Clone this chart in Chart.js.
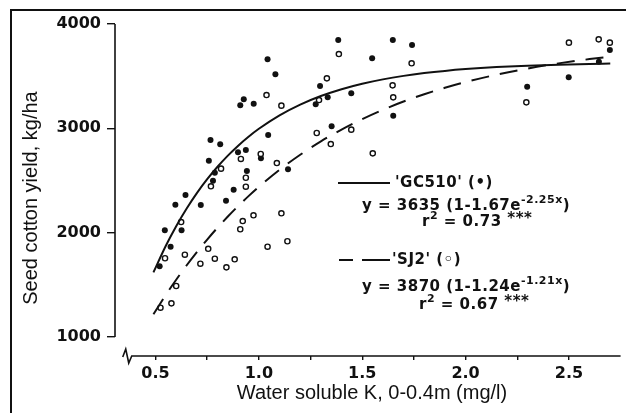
<!DOCTYPE html>
<html>
<head>
<meta charset="utf-8">
<title>Seed cotton yield vs water soluble K</title>
<script src="https://cdn.jsdelivr.net/npm/chart.js@4.4.1/dist/chart.umd.min.js"></script>
<style>
  html, body { margin: 0; padding: 0; background: #fff; }
  #wrap { width: 626px; height: 413px; position: relative; }
</style>
</head>
<body>
<div id="wrap"><canvas id="yieldChart" width="626" height="413"></canvas></div>
<script>
// 'GC510' plots (filled dots): water soluble K (mg/l) and seed cotton yield (kg/ha)
var GC510_K = [0.52, 0.545, 0.573, 0.596, 0.626, 0.645, 0.719, 0.758, 0.766, 0.778,
  0.787, 0.813, 0.841, 0.878, 0.899, 0.91, 0.927, 0.937, 0.942, 0.975,
  1.01, 1.042, 1.045, 1.08, 1.141, 1.275, 1.296, 1.333, 1.352, 1.384,
  1.447, 1.548, 1.648, 1.65, 1.741, 2.298, 2.499, 2.645, 2.698];
var GC510_YIELD = [1677, 2022, 1865, 2268, 2022, 2360, 2265, 2690, 2888, 2498,
  2575, 2846, 2306, 2410, 2770, 3220, 3278, 2792, 2591, 3236,
  2712, 3662, 2936, 3518, 2607, 3230, 3406, 3297, 3019, 3847,
  3335, 3671, 3847, 3121, 3799, 3399, 3489, 3639, 3751];

// 'SJ2' plots (open circles)
var SJ2_K = [0.524, 0.546, 0.577, 0.6, 0.624, 0.642, 0.717, 0.755, 0.787, 0.768,
  0.817, 0.843, 0.883, 0.91, 0.913, 0.922, 0.937, 0.937, 0.974, 1.009,
  1.037, 1.042, 1.087, 1.109, 1.109, 1.138, 1.28, 1.291, 1.329, 1.348,
  1.387, 1.447, 1.551, 1.647, 1.65, 1.739, 2.294, 2.5, 2.644, 2.698];
var SJ2_YIELD = [1280, 1754, 1322, 1488, 2101, 1788, 1702, 1845, 1750, 2444,
  2613, 1667, 1744, 2032, 2706, 2111, 2526, 2440, 2166, 2754,
  3319, 1865, 2667, 3217, 2185, 1917, 2955, 3271, 3479, 2849,
  3712, 2987, 2760, 3412, 3297, 3623, 3249, 3821, 3853, 3821];

// fitted curves y = a (1 - b e^(-c x)), coefficients as printed on the figure
var GC510_FIT = [3635, 1.67, 2.25];
var SJ2_FIT = [3870, 1.24, 1.21];
var FIT_K = [0.49, 0.55, 0.6, 0.65, 0.7, 0.75, 0.8, 0.85, 0.9, 0.95, 1.0, 1.1, 1.2, 1.3,
  1.4, 1.5, 1.6, 1.7, 1.8, 1.9, 2.0, 2.15, 2.3, 2.45, 2.6, 2.7];

var X_TICKS = [0.5, 0.75, 1.0, 1.25, 1.5, 1.75, 2.0, 2.25, 2.5];
var Y_TICKS = [1000, 2000, 3000, 4000];

// key text; second item of each piece: 0 plain, 1 superscript, 2 raised
var GC510_LABEL = "'GC510' (\u2022)";
var GC510_EQ = [['y = 3635 (1-1.67e', 0], ['-2.25x', 1], [')', 0]];
var GC510_R2 = [['r', 0], ['2', 1], [' = 0.73 ', 0], ['***', 2]];
var SJ2_LABEL = "'SJ2' (\u25E6)";
var SJ2_EQ = [['y = 3870 (1-1.24e', 0], ['-1.21x', 1], [')', 0]];
var SJ2_R2 = [['r', 0], ['2', 1], [' = 0.67 ', 0], ['***', 2]];

var TICK_FONT = 'DejaVu Sans';
var TITLE_FONT = '"Liberation Sans", Arial, sans-serif';
var KEY_SIZE = 15;

function fitCurve(coef) {
  return FIT_K.map(function (k) {
    return { x: k, y: coef[0] * (1 - coef[1] * Math.exp(-coef[2] * k)) };
  });
}

function toPoints(xs, ys) {
  return xs.map(function (x, i) { return { x: x, y: ys[i] }; });
}

function keyFont(size) {
  return 'bold ' + size + 'px ' + TICK_FONT;
}

function drawRuns(ctx, x, y, runs) {
  runs.forEach(function (piece) {
    var t = piece[0], kind = piece[1];
    var size = kind === 1 ? Math.round(KEY_SIZE * 0.72) : KEY_SIZE;
    var lift = kind === 1 ? KEY_SIZE * 0.42 : (kind === 2 ? 3 : 0);
    ctx.font = keyFont(size);
    ctx.fillText(t, x, y - lift);
    x += ctx.measureText(t).width;
  });
}

var paperPlugin = {
  id: 'paper',
  beforeDraw: function (chart) {
    var ctx = chart.ctx;
    ctx.save();
    ctx.fillStyle = '#fff';
    ctx.fillRect(0, 0, chart.width, chart.height);
    // page frame, only the left and top edges are in view
    ctx.strokeStyle = '#111';
    ctx.lineWidth = 2;
    ctx.beginPath();
    ctx.moveTo(11, chart.height);
    ctx.lineTo(11, 10);
    ctx.lineTo(chart.width, 10);
    ctx.stroke();
    ctx.restore();
  },
  afterDraw: function (chart) {
    var ctx = chart.ctx;
    var xs = chart.scales.x, ys = chart.scales.y;
    var area = chart.chartArea;
    ctx.save();
    ctx.strokeStyle = '#111';
    ctx.fillStyle = '#111';
    ctx.lineWidth = 1.6;

    // y axis runs from 1000 to 4000 only
    ctx.beginPath();
    ctx.moveTo(area.left, ys.getPixelForValue(4000));
    ctx.lineTo(area.left, ys.getPixelForValue(1000));
    ctx.stroke();

    // x axis with a break mark at its left end
    var bx = xs.getPixelForValue(0.385), by = area.bottom;
    ctx.beginPath();
    ctx.moveTo(bx - 9, by + 1);
    ctx.lineTo(bx - 6, by - 7);
    ctx.lineTo(bx - 3, by + 7);
    ctx.lineTo(bx, by);
    ctx.lineTo(area.right, by);
    ctx.stroke();

    // axis titles
    ctx.font = '20px ' + TITLE_FONT;
    ctx.textAlign = 'center';
    ctx.textBaseline = 'middle';
    ctx.fillText('Water soluble K, 0-0.4m (mg/l)', 372, 393);
    ctx.save();
    ctx.translate(31, 198);
    ctx.rotate(-Math.PI / 2);
    ctx.fillText('Seed cotton yield, kg/ha', 0, 0);
    ctx.restore();

    // key and fitted equations
    ctx.textAlign = 'left';
    ctx.textBaseline = 'middle';
    ctx.lineWidth = 2;
    ctx.beginPath();
    ctx.moveTo(338, 183);
    ctx.lineTo(390, 183);
    ctx.moveTo(339, 260);
    ctx.lineTo(353, 260);
    ctx.moveTo(362, 260);
    ctx.lineTo(390, 260);
    ctx.stroke();

    ctx.letterSpacing = '0.5px';
    ctx.font = keyFont(KEY_SIZE);
    ctx.fillText(GC510_LABEL, 395, 183);
    drawRuns(ctx, 362, 206, GC510_EQ);
    drawRuns(ctx, 422, 222, GC510_R2);
    ctx.font = keyFont(KEY_SIZE);
    ctx.fillText(SJ2_LABEL, 392, 260);
    drawRuns(ctx, 362, 287, SJ2_EQ);
    drawRuns(ctx, 419, 305, SJ2_R2);
    ctx.letterSpacing = '0px';
    ctx.restore();
  }
};

var ctx = document.getElementById('yieldChart').getContext('2d');
var chart = new Chart(ctx, {
  type: 'scatter',
  data: {
    datasets: [
      {
        label: 'GC510 fit',
        type: 'line',
        data: fitCurve(GC510_FIT),
        borderColor: '#111',
        borderWidth: 2,
        pointRadius: 0,
        cubicInterpolationMode: 'monotone',
        fill: false
      },
      {
        label: 'SJ2 fit',
        type: 'line',
        data: fitCurve(SJ2_FIT),
        borderColor: '#111',
        borderWidth: 2,
        borderDash: [18, 11],
        pointRadius: 0,
        cubicInterpolationMode: 'monotone',
        fill: false
      },
      {
        label: 'SJ2',
        data: toPoints(SJ2_K, SJ2_YIELD),
        pointRadius: 2.6,
        pointBackgroundColor: '#fff',
        pointBorderColor: '#111',
        pointBorderWidth: 1.4
      },
      {
        label: 'GC510',
        data: toPoints(GC510_K, GC510_YIELD),
        pointRadius: 3,
        pointBackgroundColor: '#111',
        pointBorderColor: '#111',
        pointBorderWidth: 0
      }
    ]
  },
  options: {
    responsive: false,
    animation: false,
    layout: { padding: { top: 24, right: 0, left: 0, bottom: 0 } },
    plugins: { legend: { display: false }, tooltip: { enabled: false } },
    scales: {
      x: {
        type: 'linear',
        min: 0.304,
        max: 2.75,
        afterBuildTicks: function (scale) {
          scale.ticks = X_TICKS.map(function (v) { return { value: v }; });
        },
        afterFit: function (scale) { scale.height = 57; },
        border: { display: false },
        grid: { drawOnChartArea: false, drawTicks: true, tickLength: 4, color: '#111', lineWidth: 1.4 },
        ticks: {
          color: '#111',
          padding: 4,
          maxRotation: 0,
          autoSkip: false,
          font: { family: TICK_FONT, size: 16, weight: 'bold' },
          callback: function (v) {
            return Math.abs(v * 2 - Math.round(v * 2)) < 1e-6 ? v.toFixed(1) : '';
          }
        }
      },
      y: {
        type: 'linear',
        min: 817,
        max: 4000,
        afterBuildTicks: function (scale) {
          scale.ticks = Y_TICKS.map(function (v) { return { value: v }; });
        },
        afterFit: function (scale) { scale.width = 115; },
        border: { display: false },
        grid: { drawOnChartArea: false, drawTicks: true, tickLength: 8, color: '#111', lineWidth: 1.4 },
        ticks: {
          color: '#111',
          padding: 6,
          font: { family: TICK_FONT, size: 16, weight: 'bold' },
          callback: function (v) { return String(v); }
        }
      }
    }
  },
  plugins: [paperPlugin]
});
</script>
</body>
</html>
